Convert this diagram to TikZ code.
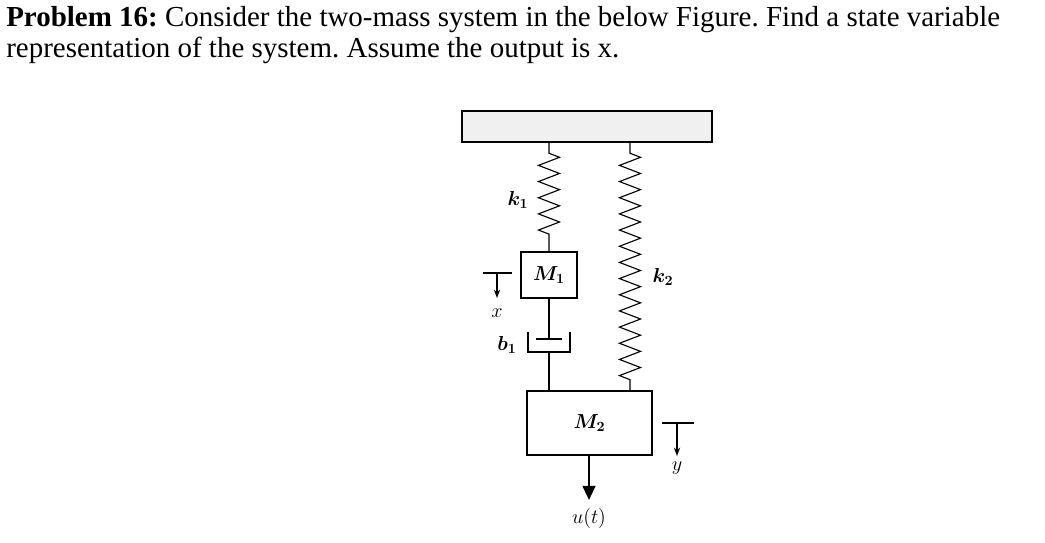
\documentclass[tikz,border=0pt]{standalone}
\usepackage{amsmath}
\usepackage{fontspec}
\setmainfont{Liberation Serif}
\usetikzlibrary{positioning,arrows.meta,decorations.pathmorphing}

\begin{document}
\frenchspacing
\begin{tikzpicture}[x=0.025cm, y=-0.025cm, every node/.style={font=\Large},
    mass/.style={draw, thick, inner sep=0pt},
    spring/.style={thick, decorate, decoration={zigzag, amplitude=7.5pt, segment length=11.5pt, pre length=8pt, post length=8pt}},
    disp/.style={thick, -{Stealth[length=6pt]}}]
    \useasboundingbox (0,0) rectangle (1045,542);

    % Problem text
    \node[anchor=north west, align=left, inner sep=0pt, font=\fontsize{20.6}{23}\selectfont] (txt) at (6,6)
        {\textbf{Problem 16:} Consider the two-mass system in the below Figure. Find a state variable\\[-1pt]
         representation of the system. Assume the output is x.};

    % Ceiling
    \node[draw, thick, fill=gray!12, minimum width=250*0.025cm, minimum height=31*0.025cm, inner sep=0pt] (wall) at (587,126.5) {};

    % Masses
    \node[mass, minimum width=56*0.025cm, minimum height=46*0.025cm] (m1) at (549,275) {$\boldsymbol{M_1}$};
    \node[mass, minimum width=125*0.025cm, minimum height=64*0.025cm] (m2) at (589.5,423) {$\boldsymbol{M_2}$};

    % Springs
    \coordinate (s1) at (549,142);
    \coordinate (s2) at (630,142);
    \coordinate (s2b) at (630,391);
    \draw[spring] (s1) -- (m1.north);
    \draw[spring] (s2) -- (s2b);
    \node (k1) at (518,200) {$\boldsymbol{k_1}$};
    \node (k2) at (663,277) {$\boldsymbol{k_2}$};

    % Damper
    \coordinate (dtop) at (549,339);
    \coordinate (dbot) at (549,352);
    \draw[thick] (m1.south) -- (dtop);
    \draw[thick] (536,339) -- (562,339);
    \draw[thick] (528,332) -- (528,352) -- (570,352) -- (570,332);
    \draw[thick] (dbot) -- (549,391);
    \node (b1) at (507,345) {$\boldsymbol{b_1}$};

    % Displacements
    \draw[thick] (483,273) -- (512,273);
    \draw[disp] (497,273) -- (497,298);
    \node (x) at (497,313) {$x$};
    \draw[thick] (662,423) -- (694,423);
    \draw[disp] (677,423) -- (677,456);
    \node (y) at (677,468) {$y$};

    % Input force
    \coordinate (uend) at (589,500);
    \draw[line width=1.6pt, -{Triangle[length=10pt, width=9pt]}] (m2.south -| uend) -- (uend);
    \node (u) at (589,518) {$u(t)$};
\end{tikzpicture}
\end{document}
